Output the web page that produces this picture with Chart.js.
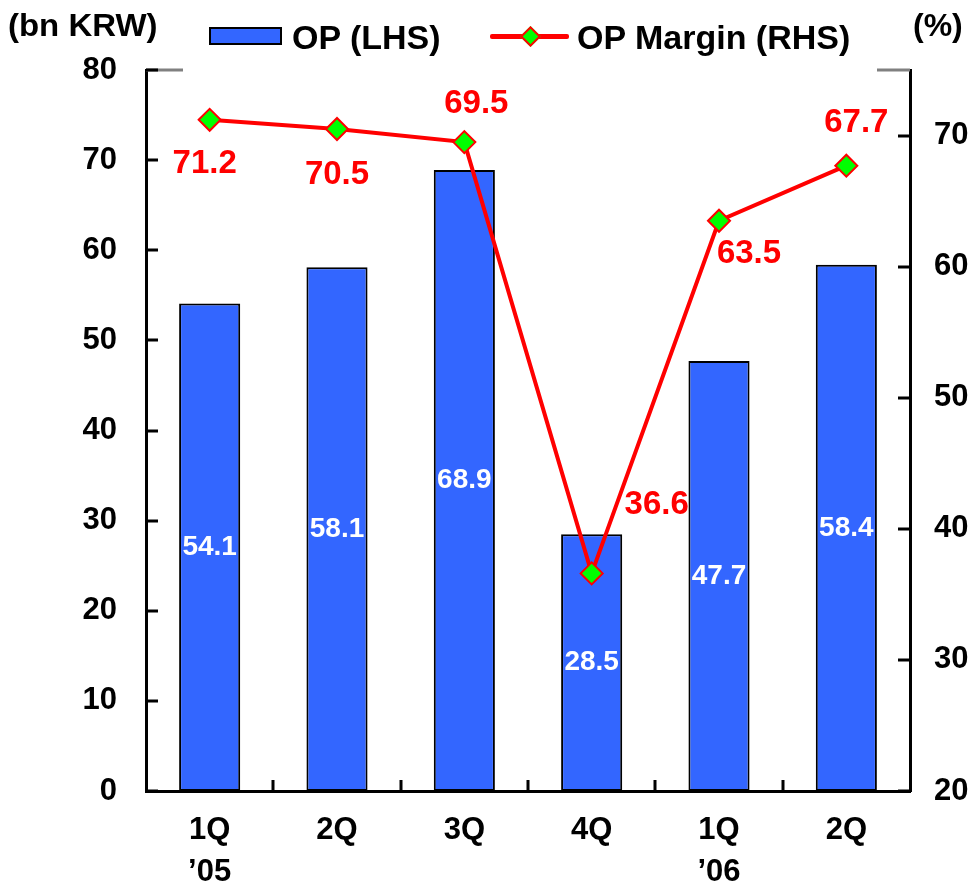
<!DOCTYPE html>
<html>
<head>
<meta charset="utf-8">
<script src="https://cdn.jsdelivr.net/npm/chart.js@4.4.1/dist/chart.umd.min.js"></script>
<style>
  html,body{margin:0;padding:0;background:#fff;}
  #wrap{position:relative;width:975px;height:890px;font-family:Arial,"Liberation Sans",sans-serif;font-weight:bold;color:#000;}
  canvas{position:absolute;left:0;top:0;}
  .t{position:absolute;white-space:nowrap;line-height:1;}
</style>
</head>
<body>
<div id="wrap">
  <canvas id="c" width="975" height="890"></canvas>
  <div class="t" style="left:8px;top:9px;font-size:32px;transform:scaleX(1.03);transform-origin:0 0;">(bn KRW)</div>
  <div class="t" style="left:913px;top:9px;font-size:32px;">(%)</div>
  <div style="position:absolute;left:209px;top:27px;width:69px;height:14px;background:#3366FF;border:2px solid #000;"></div>
  <div class="t" style="left:292px;top:20px;font-size:34px;">OP (LHS)</div>
  <div style="position:absolute;left:490px;top:34px;width:79px;height:5px;background:#FF0000;border-radius:2px;"></div>
  <div style="position:absolute;left:523px;top:29px;width:11px;height:11px;background:#00FF00;border:2px solid #FF0000;transform:rotate(45deg);"></div>
  <div class="t" style="left:577px;top:20px;font-size:34px;">OP Margin (RHS)</div>
</div>
<script>
const categories = [['1Q', '\u201905'], ['2Q'], ['3Q'], ['4Q'], ['1Q', '\u201906'], ['2Q']];
const opValues = [54.1, 58.1, 68.9, 28.5, 47.7, 58.4];
const marginValues = [71.2, 70.5, 69.5, 36.6, 63.5, 67.7];
const leftTicks = [0, 10, 20, 30, 40, 50, 60, 70, 80];
const rightTicks = [20, 30, 40, 50, 60, 70];

const marginLabelOffsets = [[-5, 44], [0, 46], [12, -38], [65, -68], [30, 33], [10, -43]];

const decor = {
  id: 'decor',
  afterDatasetsDraw(chart) {
    const ctx = chart.ctx;
    const a = chart.chartArea;
    const x = chart.scales.x, yL = chart.scales.yL, yR = chart.scales.yR;
    ctx.save();
    ctx.strokeStyle = '#808080';
    ctx.lineWidth = 3;
    ctx.beginPath();
    ctx.moveTo(a.left, a.top); ctx.lineTo(a.left + 37, a.top);
    ctx.moveTo(a.right - 33, a.top); ctx.lineTo(a.right, a.top);
    ctx.stroke();
    ctx.strokeStyle = '#000';
    ctx.lineWidth = 3;
    ctx.beginPath();
    leftTicks.forEach(v => {
      const y = Math.round(yL.getPixelForValue(v));
      ctx.moveTo(a.left, y); ctx.lineTo(a.left + 12, y);
    });
    rightTicks.forEach(v => {
      const y = Math.round(yR.getPixelForValue(v));
      ctx.moveTo(a.right, y); ctx.lineTo(a.right - 12, y);
    });
    for (let i = 1; i < categories.length; i++) {
      const bx = Math.round((x.getPixelForValue(i - 1) + x.getPixelForValue(i)) / 2);
      ctx.moveTo(bx, a.bottom); ctx.lineTo(bx, a.bottom - 11);
    }
    ctx.stroke();
    ctx.textAlign = 'center';
    ctx.textBaseline = 'middle';
    ctx.fillStyle = '#fff';
    ctx.font = 'bold 28px Arial, "Liberation Sans", sans-serif';
    const barMeta = chart.getDatasetMeta(0);
    barMeta.data.forEach((el, i) => {
      ctx.fillText(opValues[i].toFixed(1), el.x, (el.y + el.base) / 2);
    });
    ctx.fillStyle = '#FF0000';
    ctx.font = 'bold 33px Arial, "Liberation Sans", sans-serif';
    const lineMeta = chart.getDatasetMeta(1);
    lineMeta.data.forEach((el, i) => {
      const o = marginLabelOffsets[i];
      ctx.fillText(marginValues[i].toFixed(1), el.x + o[0], el.y + o[1]);
    });
    ctx.restore();
  }
};

new Chart(document.getElementById('c'), {
  data: {
    labels: categories,
    datasets: [
      {
        type: 'bar',
        label: 'OP (LHS)',
        data: opValues,
        yAxisID: 'yL',
        backgroundColor: '#3366FF',
        borderColor: '#000',
        borderWidth: 2,
        borderSkipped: false,
        categoryPercentage: 1,
        barPercentage: 0.48,
        order: 2
      },
      {
        type: 'line',
        label: 'OP Margin (RHS)',
        data: marginValues,
        yAxisID: 'yR',
        borderColor: '#FF0000',
        borderWidth: 4,
        tension: 0,
        pointStyle: 'rectRot',
        pointRadius: 11,
        pointBackgroundColor: '#00FF00',
        pointBorderColor: '#FF0000',
        pointBorderWidth: 2,
        order: 1
      }
    ]
  },
  options: {
    responsive: false,
    animation: false,
    layout: { padding: { top: 70, left: 0, right: 0, bottom: 0 } },
    plugins: { legend: { display: false }, tooltip: { enabled: false } },
    scales: {
      x: {
        offset: true,
        grid: { display: false, drawTicks: false },
        border: { display: true, color: '#000', width: 3 },
        ticks: {
          color: '#000',
          padding: 18,
          maxRotation: 0,
          autoSkip: false,
          font: { family: 'Arial, "Liberation Sans", sans-serif', size: 31, weight: 'bold', lineHeight: 1.36 }
        },
        afterFit(s) { s.height = 99; }
      },
      yL: {
        position: 'left',
        min: 0, max: 80,
        grid: { display: false, drawTicks: false },
        border: { display: true, color: '#000', width: 3 },
        afterBuildTicks(s) { s.ticks = leftTicks.map(v => ({ value: v })); },
        ticks: {
          color: '#000',
          padding: 29,
          font: { family: 'Arial, "Liberation Sans", sans-serif', size: 31, weight: 'bold' }
        },
        afterFit(s) { s.width = 146; }
      },
      yR: {
        position: 'right',
        min: 20, max: 75,
        grid: { display: false, drawTicks: false },
        border: { display: true, color: '#000', width: 3 },
        afterBuildTicks(s) { s.ticks = rightTicks.map(v => ({ value: v })); },
        ticks: {
          color: '#000',
          padding: 24,
          font: { family: 'Arial, "Liberation Sans", sans-serif', size: 31, weight: 'bold' }
        },
        afterFit(s) { s.width = 65; }
      }
    }
  },
  plugins: [decor]
});
</script>
</body>
</html>
